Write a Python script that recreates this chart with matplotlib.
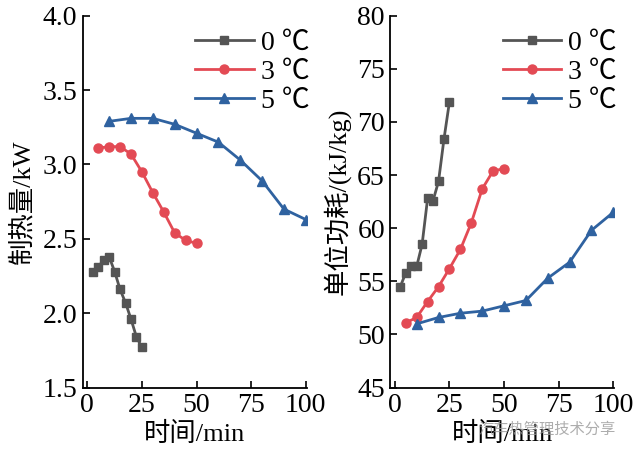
import matplotlib
matplotlib.use('Agg')
import matplotlib.pyplot as plt

# dados
t0 = [2.5, 5, 7.5, 10, 12.5, 15, 17.5, 20, 22.5, 25]
t3 = [5, 10, 15, 20, 25, 30, 35, 40, 45, 50]
t5 = [10, 20, 30, 40, 50, 60, 70, 80, 90, 100]

cap0 = [2.28, 2.31, 2.36, 2.38, 2.28, 2.16, 2.07, 1.96, 1.84, 1.77]
cap3 = [3.11, 3.12, 3.12, 3.07, 2.95, 2.81, 2.68, 2.54, 2.49, 2.47]
cap5 = [3.29, 3.31, 3.31, 3.27, 3.21, 3.15, 3.03, 2.89, 2.70, 2.63]

cons0 = [54.5, 55.8, 56.4, 56.4, 58.5, 62.8, 62.6, 64.4, 68.4, 71.9]
cons3 = [51.1, 51.6, 53.1, 54.5, 56.2, 58.0, 60.5, 63.7, 65.4, 65.6]
cons5 = [51.0, 51.6, 52.0, 52.2, 52.7, 53.2, 55.3, 56.8, 59.8, 61.5]

rotulos = ['0 ℃', '3 ℃', '5 ℃']
cores = ['#555555', '#e34a54', '#2f62a0']
marcadores = ['s', 'o', '^']
tamanhos = [5.5, 6.5, 7]

plt.rcParams['font.family'] = ['Liberation Serif', 'Noto Sans CJK SC']
plt.rcParams['font.size'] = 20

fig = plt.figure(figsize=(6.38, 4.62), dpi=100)
ax1 = fig.add_axes([0.130, 0.161, 0.351, 0.805])
ax2 = fig.add_axes([0.612, 0.161, 0.351, 0.805])


def desenha(ax, xs, ys):
    for x, y, lab, c, m, s in zip(xs, ys, rotulos, cores, marcadores, tamanhos):
        ax.plot(x, y, color=c, marker=m, markersize=s, linewidth=2,
                markeredgecolor=c, label=lab)
    for lado in ['top', 'right']:
        ax.spines[lado].set_visible(False)
    for lado in ['left', 'bottom']:
        ax.spines[lado].set_linewidth(1.3)
    ax.tick_params(direction='in', length=5, width=1.2, labelsize=20, pad=4)
    ax.set_xlim(-2, 100.5)
    ax.set_xticks([0, 25, 50, 75, 100])
    ax.set_xlabel('时间/min', fontsize=19, labelpad=3)
    ax.legend(loc='upper right', bbox_to_anchor=(1.06, 0.99), frameon=False,
              fontsize=20, handlelength=2.1, handletextpad=0.25,
              labelspacing=0.12, borderaxespad=0)


desenha(ax1, [t0, t3, t5], [cap0, cap3, cap5])
ax1.set_ylim(1.5, 4.0)
ax1.set_yticks([1.5, 2.0, 2.5, 3.0, 3.5, 4.0])
ax1.set_yticklabels(['1.5', '2.0', '2.5', '3.0', '3.5', '4.0'])
ax1.set_ylabel('制热量/kW', fontsize=19, labelpad=6)

desenha(ax2, [t0, t3, t5], [cons0, cons3, cons5])
ax2.set_ylim(45, 80)
ax2.set_yticks([45, 50, 55, 60, 65, 70, 75, 80])
ax2.set_ylabel('单位功耗/(kJ/kg)', fontsize=19, labelpad=5)

fig.text(0.75, 0.062, '汽车热管理技术分享', fontsize=11, color='#999999',
         family=['Noto Sans CJK SC'], alpha=0.8)

plt.savefig('out.png', dpi=100)
